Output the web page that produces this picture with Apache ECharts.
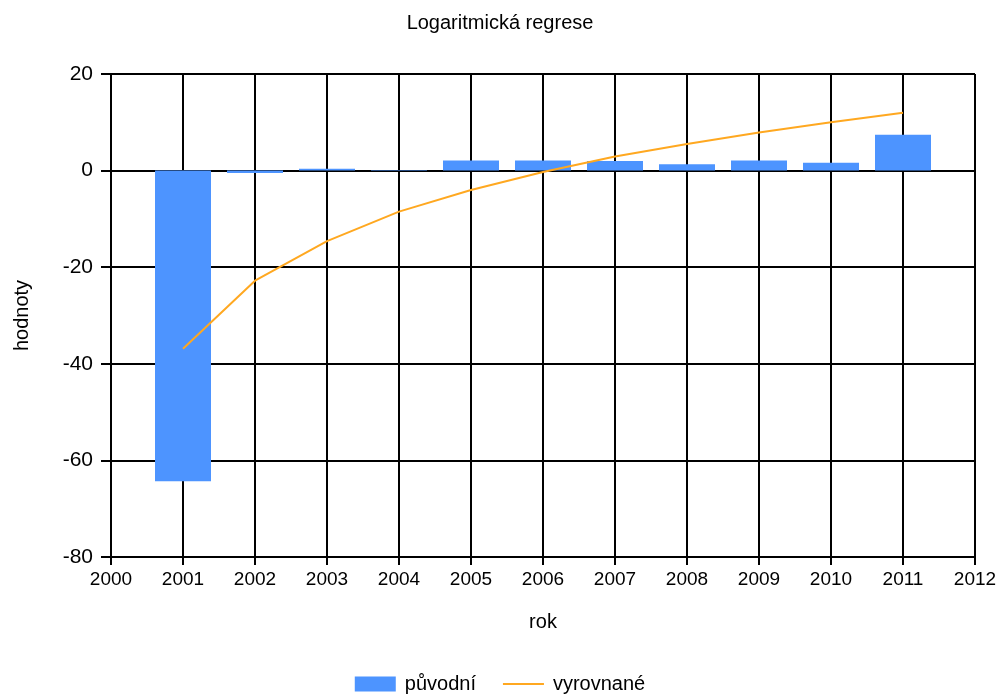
<!DOCTYPE html>
<html>
<head>
<meta charset="utf-8">
<script src="https://cdn.jsdelivr.net/npm/echarts@6/dist/echarts.min.js"></script>
<style>html,body{margin:0;padding:0;background:#fff}#c{width:1000px;height:695px}</style>
</head>
<body>
<div id="c"></div>
<script>
var years = [2001, 2002, 2003, 2004, 2005, 2006, 2007, 2008, 2009, 2010, 2011];
var puvodni = [-64.3, -0.5, 0.4, 0.1, 2.1, 2.1, 2.0, 1.3, 2.1, 1.6, 7.4];
var vyrovnane = [-36.9, -22.8, -14.6, -8.5, -4.0, -0.3, 2.9, 5.5, 7.9, 10.0, 12.0];
var title = 'Logaritmická regrese';
var xName = 'rok';
var yName = 'hodnoty';

var font = '"Liberation Sans", Arial, sans-serif';
var chart = echarts.init(document.getElementById('c'));
chart.setOption({
  animation: false,
  backgroundColor: '#fff',
  textStyle: {fontFamily: font},
  title: {text: title, left: 'center', top: 8, textStyle: {fontFamily: font, fontSize: 20, fontWeight: 'normal', color: '#000'}},
  grid: {left: 111, right: 25, top: 74, bottom: 138, containLabel: false, outerBoundsMode: 'none'},
  legend: {
    top: 669, left: 'center', itemGap: 26, itemWidth: 41, itemHeight: 15,
    textStyle: {fontFamily: font, fontSize: 20, color: '#000', padding: [0, 0, 0, 4]},
    data: [{name: 'původní', icon: 'rect'}, {name: 'vyrovnané', itemStyle: {opacity: 0}}]
  },
  xAxis: {
    type: 'value', min: 2000, max: 2012, interval: 1,
    name: xName, nameLocation: 'middle', nameGap: 55,
    nameTextStyle: {fontFamily: font, fontSize: 20, color: '#000'},
    axisLine: {show: true, onZero: false, lineStyle: {color: '#000', width: 2}},
    axisTick: {show: true, length: 8, lineStyle: {color: '#000', width: 2}},
    axisLabel: {color: '#000', fontSize: 19, fontFamily: font, margin: 13, formatter: function(v){return String(v);}},
    splitLine: {show: true, lineStyle: {color: '#000', width: 2}}
  },
  yAxis: {
    type: 'value', min: -80, max: 20, interval: 20,
    name: yName, nameLocation: 'middle', nameGap: 79, nameRotate: 90,
    nameTextStyle: {fontFamily: font, fontSize: 20, color: '#000'},
    axisLine: {show: true, lineStyle: {color: '#000', width: 2}},
    axisTick: {show: true, length: 10, lineStyle: {color: '#000', width: 2}},
    axisLabel: {color: '#000', fontSize: 21, fontFamily: font, margin: 18},
    splitLine: {show: true, lineStyle: {color: '#000', width: 2}}
  },
  series: [
    {
      name: 'původní', type: 'bar', barWidth: 56,
      itemStyle: {color: '#4d94ff'},
      data: years.map(function(y, i){return [y, puvodni[i]];}),
      z: 2
    },
    {
      name: 'vyrovnané', type: 'line', showSymbol: false, symbol: 'none',
      lineStyle: {color: '#ffa820', width: 2},
      itemStyle: {color: '#ffa820'},
      data: years.map(function(y, i){return [y, vyrovnane[i]];}),
      z: 3
    }
  ]
});
</script>
</body>
</html>
